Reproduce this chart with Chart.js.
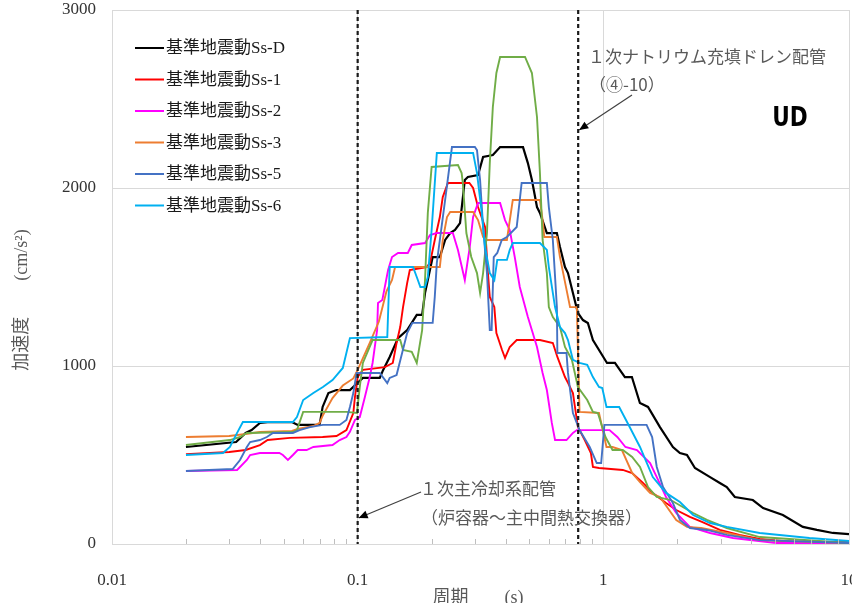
<!DOCTYPE html>
<html>
<head>
<meta charset="utf-8">
<script src="https://cdn.jsdelivr.net/npm/chart.js@4.4.1/dist/chart.umd.min.js"></script>
<style>
  html, body { margin: 0; padding: 0; background: #fff; }
  #wrap { width: 852px; height: 603px; }
</style>
</head>
<body>
<div id="wrap"><canvas id="chart-ud" width="852" height="603"></canvas></div>
<script>
// period (s), acceleration (cm/s2)
const ssD = [[0.02,545],[0.032,573],[0.035,624],[0.037,640],[0.040,680],[0.043,685],[0.054,685],[0.057,669],[0.070,669],[0.072,770],[0.076,848],[0.082,865],[0.093,865],[0.099,900],[0.105,933],[0.123,933],[0.127,978],[0.135,1051],[0.146,1157],[0.159,1202],[0.166,1242],[0.174,1287],[0.183,1287],[0.188,1410],[0.193,1483],[0.202,1612],[0.216,1612],[0.227,1708],[0.238,1747],[0.249,1764],[0.261,1803],[0.273,2045],[0.281,2062],[0.309,2073],[0.324,2174],[0.355,2185],[0.38,2230],[0.471,2230],[0.493,2140],[0.512,2045],[0.537,1893],[0.552,1860],[0.589,1747],[0.647,1747],[0.666,1669],[0.698,1556],[0.718,1522],[0.752,1410],[0.788,1298],[0.826,1258],[0.865,1242],[0.907,1146],[1.035,1017],[1.115,1017],[1.224,938],[1.307,938],[1.409,792],[1.52,770],[1.70,657],[1.92,545],[2.05,511],[2.19,500],[2.36,427],[2.72,376],[2.98,343],[3.18,320],[3.43,264],[4.06,247],[4.47,202],[5.38,163],[6.49,96],[7.40,79],[8.60,62],[10,56]];

const ss1 = [[0.02,505],[0.03,517],[0.035,528],[0.040,556],[0.043,584],[0.053,596],[0.072,601],[0.082,607],[0.090,640],[0.096,736],[0.0975,826],[0.1,938],[0.105,978],[0.129,994],[0.139,1017],[0.144,1129],[0.149,1219],[0.153,1331],[0.159,1466],[0.163,1539],[0.191,1556],[0.197,1579],[0.206,1708],[0.216,1837],[0.222,1949],[0.233,2028],[0.285,2028],[0.295,2000],[0.309,1893],[0.33,1781],[0.339,1522],[0.345,1388],[0.36,1331],[0.367,1185],[0.387,1090],[0.398,1045],[0.416,1107],[0.444,1146],[0.552,1146],[0.623,1129],[0.65,1051],[0.698,938],[0.718,905],[0.752,848],[0.788,657],[0.84,584],[0.89,511],[0.907,433],[0.96,427],[1.2,416],[1.31,399],[1.45,343],[1.59,287],[1.80,230],[1.98,191],[2.25,152],[2.52,124],[2.98,79],[3.58,51],[4.33,28],[5.92,11],[10,11]];

const ss2 = [[0.02,410],[0.0323,416],[0.0354,472],[0.0365,500],[0.040,511],[0.048,511],[0.0496,500],[0.052,472],[0.0545,500],[0.057,528],[0.062,528],[0.066,545],[0.079,556],[0.0845,584],[0.090,601],[0.093,630],[0.0975,697],[0.102,713],[0.107,826],[0.112,938],[0.115,1017],[0.12,1202],[0.121,1354],[0.126,1371],[0.133,1539],[0.138,1612],[0.146,1635],[0.16,1635],[0.166,1680],[0.188,1691],[0.197,1736],[0.21,1747],[0.244,1747],[0.256,1652],[0.273,1483],[0.286,1669],[0.295,1837],[0.309,1916],[0.38,1916],[0.398,1820],[0.416,1764],[0.436,1612],[0.457,1444],[0.493,1275],[0.537,1107],[0.566,961],[0.589,865],[0.617,680],[0.636,584],[0.708,584],[0.752,624],[0.78,640],[1.06,640],[1.14,601],[1.23,545],[1.37,528],[1.55,455],[1.65,376],[1.80,264],[1.98,174],[2.25,96],[2.72,62],[3.37,34],[5.05,6],[10,6]];

const ss3 = [[0.02,601],[0.03,607],[0.035,618],[0.04,629],[0.054,635],[0.057,646],[0.066,663],[0.07,680],[0.072,720],[0.079,820],[0.087,890],[0.096,930],[0.1,978],[0.112,1130],[0.122,1250],[0.131,1420],[0.138,1483],[0.142,1556],[0.216,1556],[0.222,1708],[0.231,1837],[0.238,1865],[0.295,1865],[0.309,1820],[0.324,1725],[0.336,1708],[0.405,1708],[0.428,1933],[0.552,1933],[0.566,1820],[0.575,1725],[0.647,1725],[0.666,1612],[0.732,1331],[0.78,1331],[0.80,742],[0.96,736],[1.03,545],[1.09,545],[1.19,528],[1.31,399],[1.41,348],[1.55,287],[1.70,264],[1.98,135],[2.19,96],[2.50,90],[3.18,62],[4.33,22],[10,6]];

const ss4 = [[0.02,556],[0.0302,584],[0.0332,601],[0.0354,624],[0.0545,629],[0.0566,640],[0.06,742],[0.090,742],[0.0993,736],[0.102,882],[0.105,1017],[0.115,1146],[0.149,1146],[0.153,1090],[0.166,1079],[0.174,1017],[0.183,1202],[0.188,1483],[0.193,1860],[0.20,2118],[0.256,2129],[0.265,2084],[0.268,2028],[0.277,1747],[0.29,1612],[0.306,1522],[0.315,1410],[0.324,1522],[0.336,1747],[0.345,2140],[0.355,2455],[0.367,2646],[0.38,2736],[0.48,2736],[0.512,2646],[0.537,2399],[0.552,2084],[0.566,1708],[0.589,1522],[0.6,1331],[0.623,1275],[0.666,1219],[0.698,1107],[0.745,1034],[0.788,882],[0.86,809],[0.907,742],[0.95,736],[1.02,601],[1.09,528],[1.2,528],[1.31,489],[1.41,433],[1.52,320],[1.65,264],[1.88,247],[2.32,174],[2.64,135],[3.18,90],[4.33,39],[10,6]];

const ss5 = [[0.02,410],[0.031,421],[0.0332,472],[0.0354,545],[0.0365,573],[0.040,584],[0.0427,601],[0.0452,624],[0.0545,624],[0.058,640],[0.064,657],[0.0722,669],[0.0845,669],[0.090,697],[0.093,770],[0.096,848],[0.099,961],[0.123,961],[0.132,904],[0.135,933],[0.144,949],[0.159,1185],[0.167,1242],[0.202,1242],[0.206,1388],[0.21,1579],[0.227,1933],[0.242,2230],[0.30,2230],[0.306,2213],[0.315,2045],[0.324,1781],[0.336,1522],[0.345,1202],[0.351,1202],[0.358,1612],[0.37,1635],[0.386,1708],[0.405,1725],[0.444,1781],[0.457,1933],[0.465,2028],[0.589,2028],[0.6,1893],[0.623,1708],[0.647,1331],[0.65,1073],[0.708,1073],[0.718,961],[0.752,736],[0.80,640],[0.88,545],[0.94,455],[0.98,455],[1.01,669],[1.50,669],[1.58,601],[1.65,433],[1.75,320],[1.92,230],[2.05,135],[2.25,90],[2.64,79],[3.18,51],[4.33,22],[10,6]];

const ss6 = [[0.02,500],[0.0283,511],[0.0302,545],[0.0323,624],[0.0341,685],[0.0545,685],[0.0566,713],[0.060,809],[0.066,848],[0.0722,882],[0.079,921],[0.087,989],[0.093,1157],[0.132,1163],[0.135,1556],[0.168,1556],[0.174,1500],[0.18,1444],[0.188,1444],[0.193,1500],[0.20,1764],[0.21,2197],[0.295,2197],[0.306,2084],[0.32,1860],[0.33,1669],[0.345,1522],[0.36,1483],[0.37,1596],[0.405,1596],[0.416,1652],[0.428,1691],[0.552,1691],[0.589,1652],[0.6,1556],[0.636,1331],[0.666,1219],[0.698,1185],[0.718,1146],[0.752,1034],[0.80,1017],[0.86,1006],[0.907,938],[0.96,882],[0.99,876],[1.03,770],[1.16,770],[1.28,657],[1.41,545],[1.59,376],[1.80,287],[2.05,236],[2.32,163],[2.72,118],[3.18,96],[4.33,62],[6.9,34],[10,17]];

const seriesNames = ['基準地震動Ss-D', '基準地震動Ss-1', '基準地震動Ss-2', '基準地震動Ss-3', '基準地震動Ss-4', '基準地震動Ss-5', '基準地震動Ss-6'];
const seriesData = [ssD, ss1, ss2, ss3, ss4, ss5, ss6];
const seriesColors = ['#000000', '#FF0000', '#FF00FF', '#ED7D31', '#70AD47', '#4472C4', '#00B0F0'];
const inLegend = [true, true, true, true, false, true, true];

const xTicks = [0.01, 0.1, 1, 10];
const yTicks = [0, 1000, 2000, 3000];
const markPeriods = [0.1, 0.79];

const serifFont = '"Liberation Serif", "Noto Sans CJK JP", serif';
const gothicFont = '"Noto Sans CJK JP", sans-serif';

const datasets = seriesData.map((pts, i) => ({
  label: seriesNames[i],
  data: pts.map(p => ({ x: p[0], y: p[1] })),
  borderColor: seriesColors[i],
  backgroundColor: seriesColors[i],
  borderWidth: i === 0 ? 2.2 : 1.9,
  pointRadius: 0,
  tension: 0,
  fill: false,
  order: seriesData.length - i,
  inLegend: inLegend[i]
}));

const arrow = (ctx, x1, y1, x2, y2) => {
  ctx.strokeStyle = '#404040';
  ctx.lineWidth = 1.2;
  ctx.beginPath();
  ctx.moveTo(x1, y1);
  ctx.lineTo(x2, y2);
  ctx.stroke();
  const a = Math.atan2(y2 - y1, x2 - x1);
  const len = 9, w = 4;
  ctx.fillStyle = '#000';
  ctx.beginPath();
  ctx.moveTo(x2, y2);
  ctx.lineTo(x2 - len * Math.cos(a) + w * Math.sin(a), y2 - len * Math.sin(a) - w * Math.cos(a));
  ctx.lineTo(x2 - len * Math.cos(a) - w * Math.sin(a), y2 - len * Math.sin(a) + w * Math.cos(a));
  ctx.closePath();
  ctx.fill();
};

const extras = {
  id: 'extras',
  afterDraw(chart) {
    const ctx = chart.ctx;
    const xs = chart.scales.x;
    const area = chart.chartArea;
    ctx.save();

    // minor log ticks
    ctx.strokeStyle = '#bfbfbf';
    ctx.lineWidth = 1;
    [0.01, 0.1, 1].forEach(d => {
      for (let k = 2; k <= 9; k++) {
        const px = Math.round(xs.getPixelForValue(k * d)) + 0.5;
        ctx.beginPath();
        ctx.moveTo(px, area.bottom);
        ctx.lineTo(px, area.bottom - 5);
        ctx.stroke();
      }
    });

    // dashed marker lines
    ctx.strokeStyle = '#1a1a1a';
    ctx.lineWidth = 2.2;
    ctx.setLineDash([4, 3]);
    markPeriods.forEach(p => {
      const px = xs.getPixelForValue(p);
      ctx.beginPath();
      ctx.moveTo(px, area.top);
      ctx.lineTo(px, area.bottom);
      ctx.stroke();
    });
    ctx.setLineDash([]);

    // legend inside plot
    ctx.font = '17px ' + serifFont;
    ctx.textBaseline = 'middle';
    ctx.textAlign = 'left';
    let row = 0;
    chart.data.datasets.forEach(ds => {
      if (!ds.inLegend) return;
      const ly = 48 + row * 31.5;
      ctx.strokeStyle = ds.borderColor;
      ctx.lineWidth = 2;
      ctx.beginPath();
      ctx.moveTo(135, ly);
      ctx.lineTo(164, ly);
      ctx.stroke();
      ctx.fillStyle = '#1a1a1a';
      ctx.fillText(ds.label, 166, ly + 1);
      row++;
    });

    // annotations
    ctx.fillStyle = '#595959';
    ctx.font = '17px ' + gothicFont;
    ctx.fillText('１次ナトリウム充填ドレン配管', 588, 57);
    ctx.fillText('（④-10）', 589, 85);
    arrow(ctx, 632, 95, xs.getPixelForValue(markPeriods[1]) + 1, 130);

    ctx.fillStyle = '#595959';
    ctx.fillText('１次主冷却系配管', 420, 489);
    ctx.fillText('（炉容器～主中間熱交換器）', 421, 518);
    arrow(ctx, 421, 492, xs.getPixelForValue(markPeriods[0]) + 1, 518);

    // UD
    ctx.save();
    ctx.translate(790, 118);
    ctx.scale(0.8, 1);
    ctx.fillStyle = '#000';
    ctx.textAlign = 'center';
    ctx.font = 'bold 27px "DejaVu Sans", sans-serif';
    ctx.fillText('UD', 0, 1);
    ctx.restore();

    // axis titles
    ctx.fillStyle = '#595959';
    ctx.font = '18px ' + serifFont;
    ctx.textAlign = 'center';
    ctx.fillText('周期　　(s)', 478, 598);
    ctx.save();
    ctx.translate(22, 300);
    ctx.rotate(-Math.PI / 2);
    ctx.fillText('加速度　　(cm/s²)', 0, 0);
    ctx.restore();

    ctx.restore();
  }
};

const ctxUd = document.getElementById('chart-ud').getContext('2d');
const udChart = new Chart(ctxUd, {
  type: 'line',
  data: { datasets: datasets },
  options: {
    responsive: false,
    animation: false,
    devicePixelRatio: 1,
    layout: { padding: { top: 10, right: 3, left: 0, bottom: 0 } },
    plugins: { legend: { display: false }, tooltip: { enabled: false } },
    scales: {
      x: {
        type: 'logarithmic',
        min: 0.01,
        max: 10,
        afterBuildTicks: (s) => { s.ticks = xTicks.map(v => ({ value: v })); },
        afterFit: (s) => { s.height = 59; s.paddingLeft = 0; s.paddingRight = 0; },
        ticks: {
          padding: 26,
          maxRotation: 0,
          autoSkip: false,
          color: '#333',
          font: { family: serifFont, size: 17 },
          callback: (v) => String(v)
        },
        grid: { color: '#d9d9d9', drawTicks: false },
        border: { color: '#d9d9d9' }
      },
      y: {
        min: 0,
        max: 3000,
        afterBuildTicks: (s) => { s.ticks = yTicks.map(v => ({ value: v })); },
        afterFit: (s) => { s.width = 112; s.paddingTop = 0; s.paddingBottom = 0; },
        ticks: {
          padding: 16,
          color: '#333',
          font: { family: serifFont, size: 17 },
          callback: (v) => String(v)
        },
        grid: { color: '#d9d9d9', drawTicks: false },
        border: { color: '#d9d9d9' }
      }
    }
  },
  plugins: [extras]
});
</script>
</body>
</html>
